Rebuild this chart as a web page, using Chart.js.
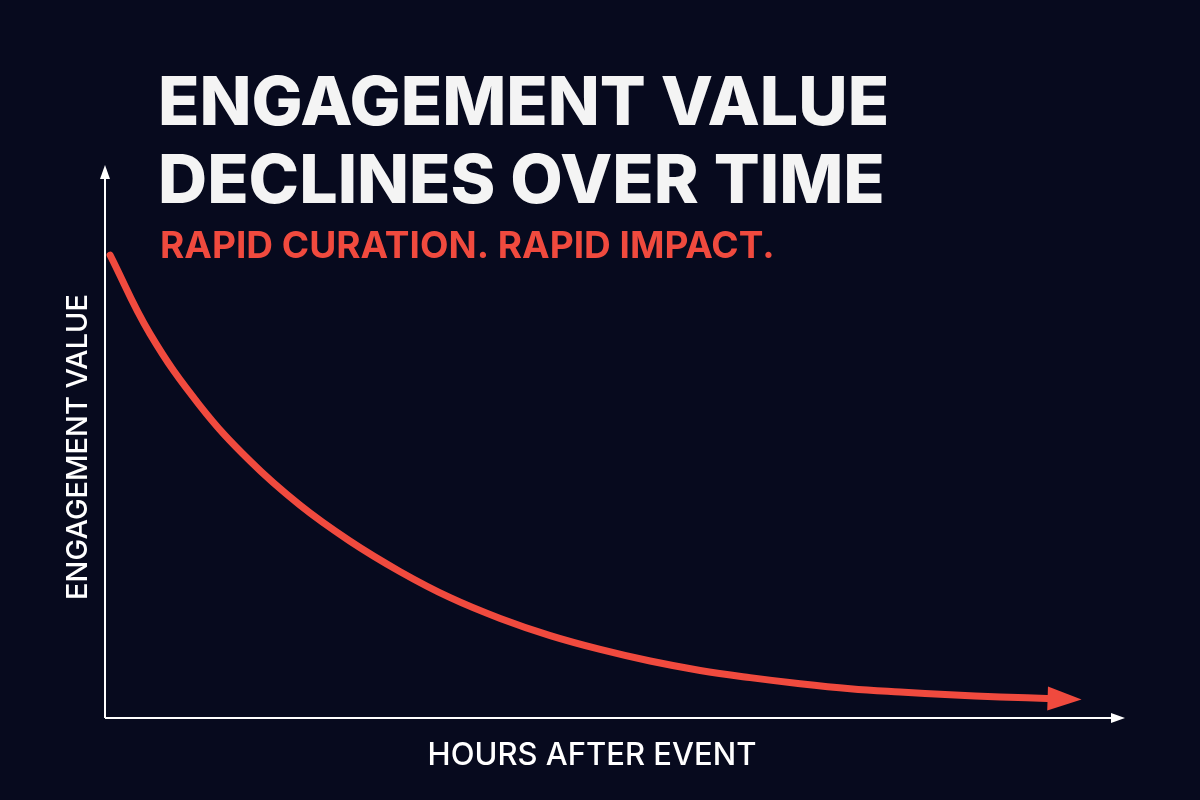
<!DOCTYPE html>
<html>
<head>
<meta charset="utf-8">
<script src="https://cdn.jsdelivr.net/npm/chart.js@4/dist/chart.umd.min.js"></script>
<style>
  html, body { margin: 0; padding: 0; background: #070a1e; }
  #wrap { width: 1200px; height: 800px; }
</style>
</head>
<body>
<div id="wrap"><canvas id="c" width="1200" height="800"></canvas></div>
<script>
// Hours after event vs engagement value
const hours = [0.1, 0.88, 1.86, 2.84, 3.82, 4.8, 5.78, 6.76, 7.75, 8.73, 9.71, 10.69, 11.67, 12.65, 13.63, 14.61, 15.59, 16.57, 17.55, 18.6];
const engagement = [83.7, 69.5, 56.5, 46.5, 38.5, 32.0, 26.5, 21.8, 18.0, 14.9, 12.4, 10.3, 8.6, 7.3, 6.2, 5.3, 4.7, 4.2, 3.8, 3.5];
const titleLines = ['ENGAGEMENT VALUE', 'DECLINES OVER TIME'];
const subtitle = 'RAPID CURATION. RAPID IMPACT.';
const xLabel = 'HOURS AFTER EVENT';
const yLabel = 'ENGAGEMENT VALUE';

const RED = '#f04a3e';

function arrowHead(ctx, x, y, angle, len, wid, color) {
  ctx.save();
  ctx.translate(x, y);
  ctx.rotate(angle);
  ctx.fillStyle = color;
  ctx.beginPath();
  ctx.moveTo(0, 0);
  ctx.lineTo(-len, -wid / 2);
  ctx.lineTo(-len, wid / 2);
  ctx.closePath();
  ctx.fill();
  ctx.restore();
}

const decor = {
  id: 'decor',
  beforeDatasetsDraw(chart) {
    const { ctx, chartArea: a } = chart;
    ctx.save();
    ctx.strokeStyle = '#ffffff';
    ctx.lineWidth = 2;
    ctx.beginPath();
    ctx.moveTo(a.left, a.bottom);
    ctx.lineTo(a.left, a.top + 8);
    ctx.moveTo(a.left, a.bottom);
    ctx.lineTo(a.right - 8, a.bottom);
    ctx.stroke();
    arrowHead(ctx, a.left, a.top, -Math.PI / 2, 14, 10, '#ffffff');
    arrowHead(ctx, a.right, a.bottom, 0, 14, 10, '#ffffff');

    ctx.fillStyle = '#f4f4f4';
    ctx.textBaseline = 'alphabetic';
    ctx.font = '800 68px Inter, "DejaVu Sans", sans-serif';
    ctx.fillText(titleLines[0], 158, 125);
    ctx.fillText(titleLines[1], 158, 203);
    ctx.fillStyle = RED;
    ctx.font = '700 37px Inter, "DejaVu Sans", sans-serif';
    ctx.fillText(subtitle, 160, 258);

    ctx.fillStyle = '#ffffff';
    ctx.font = '500 31px Inter, "DejaVu Sans", sans-serif';
    ctx.textAlign = 'center';
    ctx.textBaseline = 'middle';
    ctx.fillText(xLabel, 592, 756);
    ctx.font = '500 29px Inter, "DejaVu Sans", sans-serif';
    ctx.translate(78, 447);
    ctx.rotate(-Math.PI / 2);
    ctx.fillText(yLabel, 0, 0);
    ctx.restore();
  },
  afterDatasetsDraw(chart) {
    const pts = chart.getDatasetMeta(0).data;
    const p1 = pts[pts.length - 2], p2 = pts[pts.length - 1];
    const ang = Math.atan2(p2.y - p1.y, p2.x - p1.x);
    arrowHead(chart.ctx, p2.x + 28 * Math.cos(ang), p2.y + 28 * Math.sin(ang), ang, 34, 24, RED);
  }
};

new Chart(document.getElementById('c'), {
  type: 'line',
  data: {
    datasets: [{
      data: hours.map((h, i) => ({ x: h, y: engagement[i] })),
      borderColor: RED,
      borderWidth: 7,
      borderCapStyle: 'round',
      tension: 0.4,
      pointRadius: 0,
      fill: false
    }]
  },
  options: {
    responsive: false,
    animation: false,
    layout: { padding: { left: 105, right: 75, top: 165, bottom: 82 } },
    plugins: { legend: { display: false }, tooltip: { enabled: false } },
    scales: {
      x: { type: 'linear', min: 0, max: 20, display: false },
      y: { min: 0, max: 100, display: false }
    }
  },
  plugins: [decor]
});
</script>
</body>
</html>
